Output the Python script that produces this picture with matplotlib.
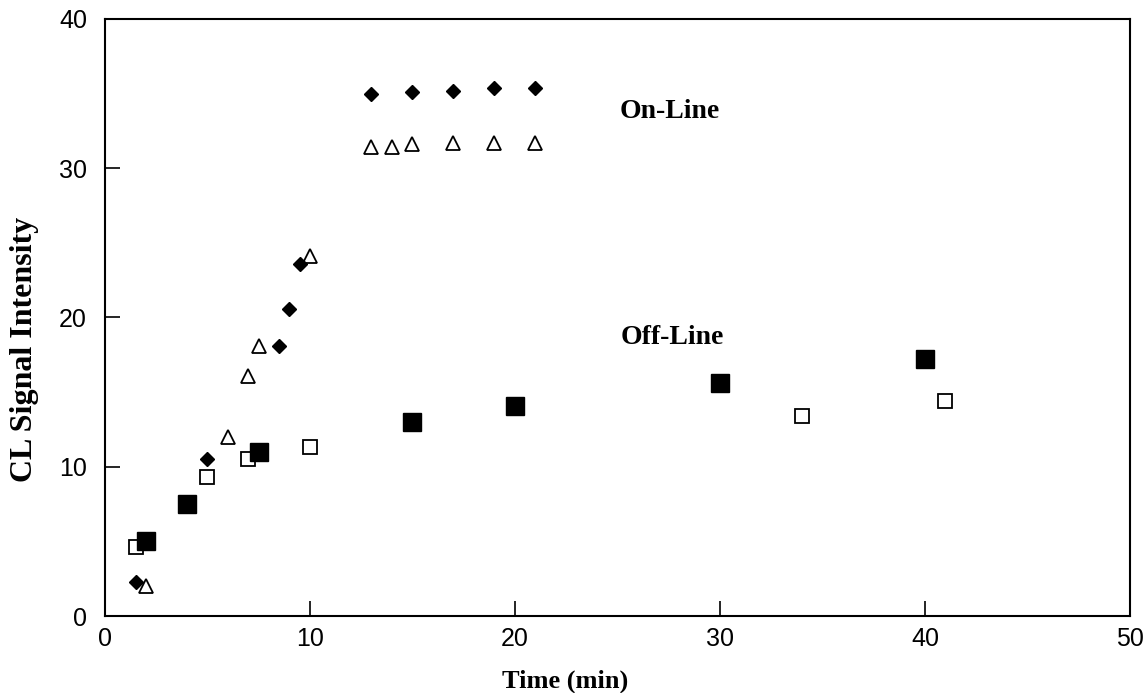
import matplotlib
matplotlib.use("Agg")
import matplotlib.pyplot as plt

# on-line, filled diamonds
on_d_x = [1.5, 5, 8.5, 9, 9.5, 13, 15, 17, 19, 21]
on_d_y = [2.3, 10.5, 18.1, 20.6, 23.6, 35.0, 35.1, 35.2, 35.4, 35.4]

# on-line, open triangles
on_t_x = [2, 6, 7, 7.5, 10, 13, 14, 15, 17, 19, 21]
on_t_y = [2.0, 12.0, 16.1, 18.1, 24.1, 31.4, 31.4, 31.6, 31.7, 31.7, 31.7]

# off-line, filled squares
off_f_x = [2, 4, 7.5, 15, 20, 30, 40]
off_f_y = [5.0, 7.5, 11.0, 13.0, 14.1, 15.6, 17.2]

# off-line, open squares
off_o_x = [1.5, 5, 7, 10, 34, 41]
off_o_y = [4.6, 9.3, 10.5, 11.3, 13.4, 14.4]

fig = plt.figure(figsize=(11.45, 6.93), dpi=100)
ax = fig.add_axes([0.0917, 0.1111, 0.8952, 0.8615])

ax.plot(off_o_x, off_o_y, ls="none", marker="s", ms=9.5, mfc="white", mec="black", mew=1.3)
ax.plot(off_f_x, off_f_y, ls="none", marker="s", ms=12.5, mfc="black", mec="black")
ax.plot(on_t_x, on_t_y, ls="none", marker="^", ms=10, mfc="white", mec="black", mew=1.3)
ax.plot(on_d_x, on_d_y, ls="none", marker="D", ms=7.5, mfc="black", mec="black")

ax.set_xlim(0, 50)
ax.set_ylim(0, 40)
ax.set_xticks([0, 10, 20, 30, 40, 50])
ax.set_yticks([0, 10, 20, 30, 40])
ax.tick_params(direction="in", length=11, width=1.2, labelsize=18,
               top=False, right=False)
ax.tick_params(axis="x", pad=8)
ax.tick_params(axis="y", pad=13)
for lab in ax.get_xticklabels() + ax.get_yticklabels():
    lab.set_fontfamily("Liberation Sans")
for s in ax.spines.values():
    s.set_linewidth(1.5)

# axis titles (placed off-centre as in the original)
ax.text(0.449, -0.109, "Time (min)", transform=ax.transAxes, ha="center", va="center",
        fontfamily="Liberation Serif", fontweight="bold", fontsize=19)
ax.text(-0.079, 0.446, "CL Signal Intensity", transform=ax.transAxes, ha="center",
        va="center", rotation=90, fontfamily="Liberation Serif", fontweight="bold",
        fontsize=23)

ax.text(27.56, 33.8, "On-Line", fontfamily="Liberation Serif", fontweight="bold",
        fontsize=20, ha="center", va="center")
ax.text(27.66, 18.65, "Off-Line", fontfamily="Liberation Serif", fontweight="bold",
        fontsize=20, ha="center", va="center")

fig.savefig("out.png", dpi=100)
